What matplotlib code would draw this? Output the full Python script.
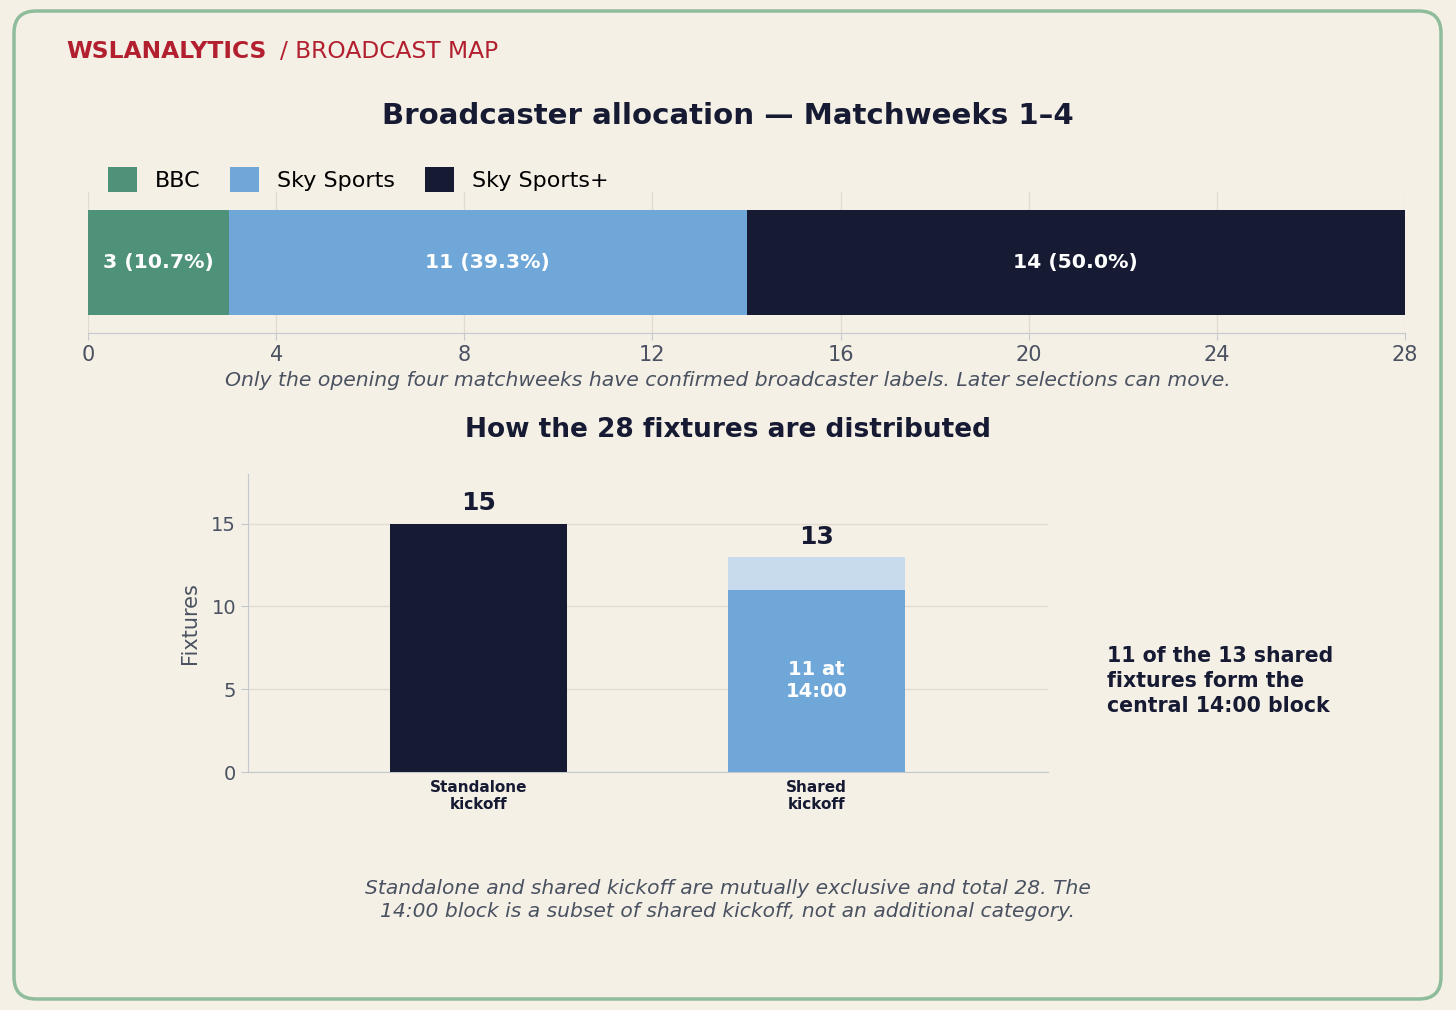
import matplotlib.pyplot as plt
from matplotlib.patches import FancyBboxPatch, Patch

# data
broadcasters = ['BBC', 'Sky Sports', 'Sky Sports+']
broadcast_counts = [3, 11, 14]
kickoff_types = ['Standalone\nkickoff', 'Shared\nkickoff']
kickoff_counts = [15, 13]
block_1400 = 11

bg = '#f5f0e6'
navy = '#161b33'
colors = ['#4e927a', '#6fa8d8', navy]
light_blue = '#c7dbec'
gray = '#4a5261'
grid_c = '#e0dcd2'
spine_c = '#c5c8cc'

plt.rcParams['font.family'] = ['DejaVu Sans']

fig = plt.figure(figsize=(14.56, 10.10), dpi=100, facecolor=bg)

# rounded border
border = FancyBboxPatch((14, 11), 1427, 988, boxstyle='round,pad=0,rounding_size=22',
                        transform=None, facecolor='none', edgecolor='#8fbc9a', linewidth=2.5)
fig.patches.append(border)

# header
fig.text(66 / 1456, 1 - 52 / 1010, 'WSLANALYTICS', color='#b22030', fontsize=16.8,
         fontweight='bold', va='center', ha='left')
fig.text(280 / 1456, 1 - 52 / 1010, '/ BROADCAST MAP', color='#b22030', fontsize=16.8,
         va='center', ha='left')

fig.text(0.5, 1 - 116 / 1010, 'Broadcaster allocation \u2014 Matchweeks 1\u20134',
         color=navy, fontsize=21.1, fontweight='bold', ha='center', va='center')

# top stacked bar
ax1 = fig.add_axes([88 / 1456, 1 - 333 / 1010, 1317 / 1456, 141 / 1010])
ax1.set_facecolor(bg)
total = sum(broadcast_counts)
left = 0
for name, n, c in zip(broadcasters, broadcast_counts, colors):
    ax1.barh(0, n, left=left, height=0.75, color=c, edgecolor='none', zorder=3)
    ax1.text(left + n / 2, 0, f'{n} ({n / total * 100:.1f}%)', color='white',
             fontsize=14.7, fontweight='bold', ha='center', va='center', zorder=4)
    left += n
ax1.set_xlim(0, total)
ax1.set_ylim(-0.5, 0.5)
ax1.set_xticks(range(0, total + 1, 4))
ax1.set_yticks([])
ax1.grid(axis='x', color=grid_c, linewidth=1, zorder=0)
for s in ['top', 'right', 'left']:
    ax1.spines[s].set_visible(False)
ax1.spines['bottom'].set_color(spine_c)
ax1.tick_params(axis='x', colors=gray, labelsize=15, length=5, color=spine_c)
handles = [Patch(facecolor=c, label=b) for b, c in zip(broadcasters, colors)]
ax1.legend(handles=handles, ncol=3, frameon=False, loc='lower left',
           bbox_to_anchor=(11 / 1317, 0.94), fontsize=16, handlelength=1.3, handleheight=1.35,
           columnspacing=1.35, borderaxespad=0, handletextpad=0.8)

fig.text(0.5, 1 - 381 / 1010,
         'Only the opening four matchweeks have confirmed broadcaster labels. Later selections can move.',
         color=gray, fontsize=14.7, style='italic', ha='center', va='center')

fig.text(0.5, 1 - 430 / 1010, 'How the 28 fixtures are distributed',
         color=navy, fontsize=19, fontweight='bold', ha='center', va='center')

# bottom bars
ax2 = fig.add_axes([248 / 1456, 1 - 772 / 1010, 800 / 1456, 298 / 1010])
ax2.set_facecolor(bg)
x = [0, 1]
ax2.bar(x[0], kickoff_counts[0], width=0.524, color=navy, zorder=3)
ax2.bar(x[1], kickoff_counts[1], width=0.524, color=light_blue, zorder=3)
ax2.bar(x[1], block_1400, width=0.524, color=colors[1], zorder=4)
for xi, n in zip(x, kickoff_counts):
    ax2.text(xi, n + 0.5, str(n), color=navy, fontsize=18, fontweight='bold',
             ha='center', va='bottom', zorder=5)
ax2.text(x[1], block_1400 / 2, f'{block_1400} at\n14:00', color='white', fontsize=14,
         fontweight='bold', ha='center', va='center', zorder=5, linespacing=1.2)
ax2.set_xlim(-0.684, 1.686)
ax2.set_ylim(0, 18)
ax2.set_yticks([0, 5, 10, 15])
ax2.set_xticks(x)
ax2.set_xticklabels(kickoff_types, fontsize=11, fontweight='bold', color=navy,
                    linespacing=1.1)
ax2.tick_params(axis='x', length=0, pad=6)
ax2.tick_params(axis='y', colors=gray, labelsize=14, length=5, color=spine_c)
ax2.grid(axis='y', color=grid_c, linewidth=1, zorder=0)
for s in ['top', 'right']:
    ax2.spines[s].set_visible(False)
ax2.spines['left'].set_color(spine_c)
ax2.spines['bottom'].set_color(spine_c)
ax2.set_ylabel('Fixtures', color=gray, fontsize=15, labelpad=8)

fig.text(1107 / 1456, 1 - 681 / 1010,
         '11 of the 13 shared\nfixtures form the\ncentral 14:00 block',
         color=navy, fontsize=14.8, fontweight='bold', ha='left', va='center', linespacing=1.33)

fig.text(0.5, 1 - 900 / 1010,
         'Standalone and shared kickoff are mutually exclusive and total 28. The\n'
         '14:00 block is a subset of shared kickoff, not an additional category.',
         color=gray, fontsize=14.6, style='italic', ha='center', va='center', linespacing=1.25)

fig.savefig('out.png', dpi=100, facecolor=bg)
